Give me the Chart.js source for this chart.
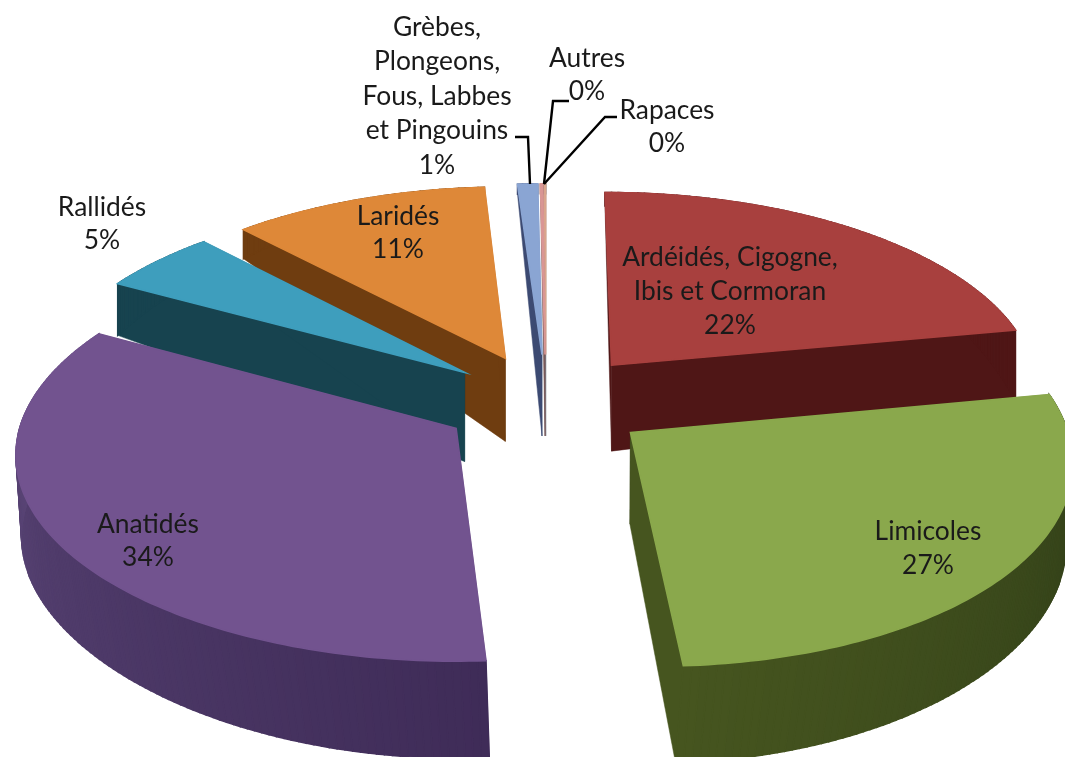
<!DOCTYPE html>
<html lang="fr">
<head>
<meta charset="utf-8">
<title>Oiseaux</title>
<script src="https://cdn.jsdelivr.net/npm/chart.js@4"></script>
<style>
  html, body { margin: 0; padding: 0; background: #fff; }
  #pie { display: block; }
</style>
</head>
<body>
<canvas id="pie" width="1065" height="757"></canvas>
<script>
// one name per slice, the lines are how the labels break in the picture
const categories = ['Ardéidés, Cigogne, Ibis et Cormoran', 'Limicoles', 'Anatidés', 'Rallidés', 'Laridés',
    'Grèbes, Plongeons, Fous, Labbes et Pingouins', 'Autres', 'Rapaces'];
const values = [22, 27, 34, 5, 10.9, 0.85, 0.1, 0.1];
const labelLines = [
    ['Ardéidés, Cigogne,', 'Ibis et Cormoran'],
    ['Limicoles'],
    ['Anatidés'],
    ['Rallidés'],
    ['Laridés'],
    ['Grèbes,', 'Plongeons,', 'Fous, Labbes', 'et Pingouins'],
    ['Autres'],
    ['Rapaces']
];

const topColors = ['#a8403e', '#8aa84c', '#72538f', '#3e9ebd', '#de8838', '#8aa5d3', '#d99694', '#d9a58c'];
const wallFrom = ['#4f1616', '#2f3d18', '#3f2c58', '#17434f', '#6f3d10', '#3c4a72', '#7a5a5a', '#777f8c'];
const wallTo = ['#4f1616', '#46551f', '#5f4a7c', '#17434f', '#6f3d10', '#3c4a72', '#7a5a5a', '#777f8c'];

// label centres: x, y of the first line, line height
const labelPos = [[730, 257, 34], [928, 531, 34], [148, 524, 33], [102, 207, 33], [398, 216, 33], [437, 27, 34.5], [587, 58, 33], [667, 110, 33]];
const leaders = [
    [[515, 137], [528, 137], [530, 184]],
    [[569, 101], [553, 101], [544, 184]],
    [[617, 117], [605, 117], [544, 184]]
];

// camera of the 3d pie
const view = { cx: 546, cy: 402, width: 430, height: 200, persp: 0.113, explode: 0.244, skew: 9 };

function project(u, v) {
    let w = 1 / (1 - view.persp * v);
    let front = Math.max(0, v);
    return [view.cx + view.width * u * w + view.skew * front * front, view.cy + view.height * v * w];
}

// the wall is thin at the back of the picture and about constant at the front
function lower(p) {
    let depth = Math.min(90 + (p[1] - 372) * 0.025, 30 + (p[1] - 232) * 0.42);
    let lean = Math.max(0, (p[1] - 400) / 260) * 0.055;
    return [p[0] - (p[0] - view.cx) * lean, p[1] + depth];
}

function mix(a, b, t) {
    let out = '#';
    for (let i = 1; i < 7; i += 2) {
        let x = parseInt(a.substr(i, 2), 16);
        let y = parseInt(b.substr(i, 2), 16);
        out += Math.round(x + (y - x) * t).toString(16).padStart(2, '0');
    }
    return out;
}

function fillPoly(ctx, pts, color, line) {
    ctx.beginPath();
    pts.forEach((p, i) => i ? ctx.lineTo(p[0], p[1]) : ctx.moveTo(p[0], p[1]));
    ctx.closePath();
    ctx.fillStyle = color;
    ctx.strokeStyle = color;
    ctx.lineWidth = line;
    ctx.fill();
    ctx.stroke();
}

function drawSlice(ctx, arc, i) {
    let start = arc.startAngle + Math.PI / 2;
    let end = arc.endAngle + Math.PI / 2;
    let mid = (start + end) / 2;
    let ou = view.explode * Math.sin(mid);
    let ov = -view.explode * Math.cos(mid);
    let apex = project(ou, ov);

    let rim = [];
    let steps = Math.max(2, Math.ceil((end - start) * 180 / Math.PI));
    for (let s = 0; s <= steps; s++) {
        let a = start + (end - start) * s / steps;
        rim.push(project(ou + Math.sin(a), ov - Math.cos(a)));
    }

    // radial faces, then the outer wall, then the top covers what is behind it
    fillPoly(ctx, [apex, rim[0], lower(rim[0]), lower(apex)], wallFrom[i], 0.5);
    fillPoly(ctx, [apex, rim[steps], lower(rim[steps]), lower(apex)], wallTo[i], 0.5);
    for (let s = 0; s < steps; s++) {
        fillPoly(ctx, [rim[s], rim[s + 1], lower(rim[s + 1]), lower(rim[s])], mix(wallFrom[i], wallTo[i], s / steps), 1.5);
    }
    fillPoly(ctx, [apex].concat(rim), arc.options.backgroundColor, 1.6);
}

const pie3d = {
    id: 'pie3d',
    beforeDatasetsDraw(chart) {
        let ctx = chart.ctx;
        let arcs = chart.getDatasetMeta(0).data;
        let order = arcs.map((a, i) => i);
        let depthOf = i => Math.sin((arcs[i].startAngle + arcs[i].endAngle) / 2);
        order.sort((a, b) => depthOf(a) - depthOf(b));
        ctx.save();
        order.forEach(i => drawSlice(ctx, arcs[i], i));
        ctx.restore();
        return false;
    },
    afterDraw(chart) {
        let ctx = chart.ctx;
        let total = values.reduce((a, b) => a + b, 0);
        ctx.save();
        ctx.strokeStyle = '#000';
        ctx.lineWidth = 2.4;
        leaders.forEach(line => {
            ctx.beginPath();
            line.forEach((p, i) => i ? ctx.lineTo(p[0], p[1]) : ctx.moveTo(p[0], p[1]));
            ctx.stroke();
        });
        ctx.font = '26.4px Lato';
        ctx.fillStyle = '#1a1a1a';
        ctx.textAlign = 'center';
        ctx.textBaseline = 'middle';
        labelLines.forEach((lines, i) => {
            let all = lines.concat(Math.round(values[i] / total * 100) + '%');
            all.forEach((t, j) => {
                ctx.fillText(t, labelPos[i][0], labelPos[i][1] + j * labelPos[i][2]);
            });
        });
        ctx.restore();
    }
};

new Chart(document.getElementById('pie'), {
    type: 'pie',
    data: {
        labels: categories,
        datasets: [{ data: values, backgroundColor: topColors, borderWidth: 0 }]
    },
    options: {
        responsive: false,
        animation: false,
        plugins: { legend: { display: false }, tooltip: { enabled: false } }
    },
    plugins: [pie3d]
});
</script>
</body>
</html>
